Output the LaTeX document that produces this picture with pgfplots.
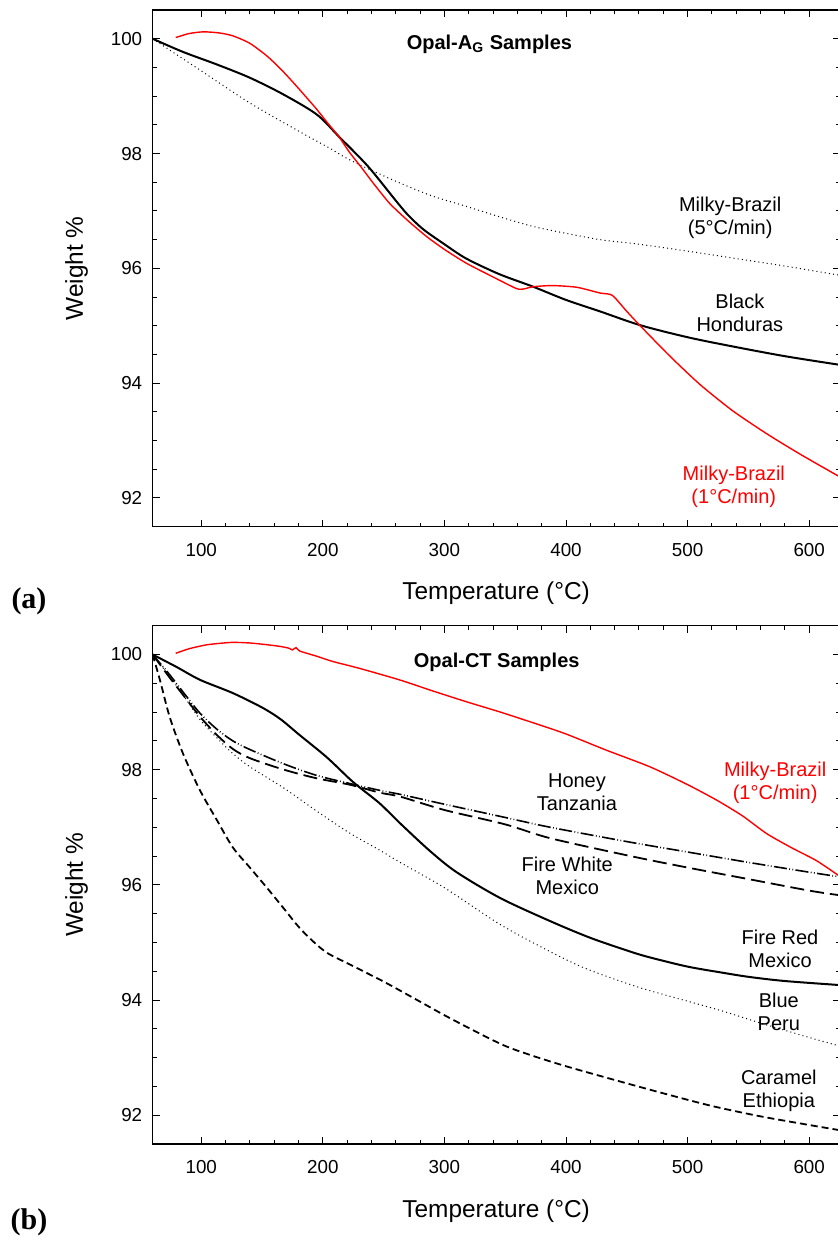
\documentclass[border=0pt]{standalone}
\usepackage{fontspec}
\setmainfont{Liberation Sans}
\newfontfamily\panelfont{Liberation Serif}
\usepackage{pgfplots}
\pgfplotsset{compat=1.18}

\definecolor{tgared}{RGB}{255,0,0}

\pgfplotsset{
  tga/.style={
    scale only axis,
    width=343.5pt,
    xmin=60, xmax=625,
    ymin=91.5, ymax=100.5,
    xtick={100,200,...,600},
    ytick={92,94,...,100},
    minor x tick num=4,
    minor y tick num=3,
    tick align=inside,
    major tick length=3.5pt,
    minor tick length=2pt,
    axis line style={line width=0.75pt},
    every tick/.style={black, line width=0.5pt},
    /pgf/number format/assume math mode=true,
    ticklabel style={font=\fontsize{9.4}{11}\selectfont},
    xticklabel style={anchor=north, inner sep=0pt, yshift=-8pt},
    yticklabel style={anchor=east, inner sep=0pt, xshift=-5pt},
    xlabel={Temperature (°C)},
    ylabel={Weight \%},
    label style={font=\fontsize{12.2}{14}\selectfont},
    xlabel style={at={(axis description cs:0.5,-0.1287)}, anchor=center},
    ylabel style={at={(axis description cs:-0.1106,0.5)}, anchor=center},
    clip=true,
  },
}
\tikzset{
  note/.style={font=\fontsize{10}{11.5}\selectfont, align=center, inner sep=0pt},
  titlenote/.style={font=\fontsize{10}{12}\selectfont\bfseries, inner sep=0pt},
  solidblack/.style={black, line width=1pt, smooth},
  redline/.style={tgared, line width=0.7pt, smooth, tension=0.4},
  dotline/.style={black, line width=0.5pt, dash pattern=on 0.5pt off 1.6pt, smooth},
  longdash/.style={black, line width=0.9pt, dash pattern=on 7pt off 3pt, smooth},
  dashdotdot/.style={black, line width=0.8pt, dash pattern=on 6.5pt off 1.2pt on 0.4pt off 1.2pt on 0.4pt off 1.2pt, smooth},
  shortdash/.style={black, line width=0.9pt, dash pattern=on 3.5pt off 2pt, smooth},
}

\begin{document}
\begin{tikzpicture}

% ---------------- (a) Opal-A_G samples ----------------
\begin{axis}[tga, height=258.35pt, at={(76.3pt,-5pt)}, anchor=north west]

% Milky-Brazil, 5 C/min
\addplot[dotline] coordinates {
(60,100) (100,99.44) (140,98.88) (181,98.38) (205,98.1) (222,97.89)
(245,97.66) (263,97.49) (290,97.26) (318,97.08) (345,96.9)
(373,96.73) (400,96.61) (428,96.5) (460,96.42) (500,96.3) (540,96.17)
(580,96.04) (625,95.88)
};

% Black Honduras
\addplot[solidblack] coordinates {
(60,100) (85,99.77) (113,99.55) (140,99.32) (167.5,99.03) (195,98.68)
(213,98.3) (237,97.78) (260,97.18) (270,96.93) (282.6,96.68) (300,96.42)
(318,96.17) (345,95.9) (373,95.68) (400,95.45) (428,95.25) (461,95.01)
(500,94.8) (537,94.64) (580,94.47) (625,94.32)
};

% Milky-Brazil, 1 C/min
\addplot[redline] coordinates {
(79,100.02) (90,100.09) (102,100.12) (115,100.1) (126,100.05) (140,99.92)
(154,99.7) (165,99.48) (176,99.23) (186,98.99) (195,98.77) (204,98.53)
(213,98.3) (222,98.02) (232,97.75) (242,97.47) (255,97.13) (270,96.83)
(285,96.56) (300,96.33) (318,96.09) (340,95.85) (359,95.65) (365,95.64)
(373,95.68) (389,95.70) (409,95.67) (428,95.57) (438,95.53) (450,95.25)
(461,95.0) (485,94.48) (510,93.98) (537,93.52) (565,93.12) (592,92.77)
(620,92.43) (625,92.37)
};

\node[titlenote] at (axis cs:337,99.9) {Opal-A\textsubscript{G} Samples};
\node[note] at (axis cs:535,96.88) {Milky-Brazil\\(5°C/min)};
\node[note] at (axis cs:543,95.22) {Black\\Honduras};
\node[note, text=tgared] at (axis cs:538,92.2) {Milky-Brazil\\(1°C/min)};
\end{axis}

% ---------------- (b) Opal-CT samples ----------------
\begin{axis}[tga, height=259.15pt, at={(76.3pt,-312.85pt)}, anchor=north west]

% Milky-Brazil, 1 C/min
\addplot[redline] coordinates {
(79,100.02) (90,100.1) (105,100.17) (125,100.21) (140,100.2) (154,100.17)
(165,100.14) (172,100.11) (175,100.08) (178,100.12) (181,100.06) (195,99.97)
(208,99.88) (230,99.76) (263,99.56) (290,99.37) (318,99.18) (346,99.0)
(375,98.8) (400,98.62) (433,98.34) (469,98.05) (500,97.74) (524,97.47)
(545,97.2) (565,96.89) (585,96.65) (606,96.42) (625,96.15)
};

% Honey Tanzania
\addplot[dashdotdot] coordinates {
(60,100) (74,99.65) (85,99.35) (99,98.98) (113,98.7) (126,98.5)
(140,98.35) (168,98.1) (195,97.9) (222,97.76) (247,97.64) (264,97.57)
(300,97.4) (350,97.17) (387,97.0) (453,96.74) (500,96.57) (550,96.39)
(600,96.22) (625,96.14)
};

% Fire White Mexico
\addplot[longdash] coordinates {
(60,100) (74,99.6) (85,99.3) (99,98.92) (113,98.6) (126,98.36)
(140,98.2) (168,98.0) (195,97.85) (222,97.74) (247,97.6) (264,97.53)
(300,97.3) (350,97.05) (387,96.81) (453,96.5) (500,96.3) (550,96.1)
(600,95.9) (625,95.82)
};

% Fire Red Mexico
\addplot[solidblack] coordinates {
(60,100) (80,99.78) (99,99.56) (126,99.33) (150,99.08) (165,98.88)
(181,98.6) (203,98.22) (222,97.84) (231,97.68) (247,97.41)
(264,97.06) (288,96.59) (310,96.22) (346,95.77) (387,95.37) (420,95.08)
(453,94.84) (469,94.74) (500,94.58) (530,94.47) (551,94.4) (580,94.33)
(625,94.26)
};

% Blue Peru
\addplot[dotline] coordinates {
(60,100) (74,99.62) (85,99.3) (99,98.87) (113,98.55) (126,98.28)
(140,98.05) (168,97.68) (195,97.28) (222,96.9) (247,96.6) (263.5,96.39)
(300,95.95) (346,95.31) (387,94.84) (417,94.54) (460,94.22) (500,93.98)
(530,93.8) (560,93.6) (600,93.35) (625,93.2)
};

% Caramel Ethiopia
\addplot[shortdash] coordinates {
(60,100) (66,99.56) (74,98.92) (85,98.28) (99,97.64) (113,97.12)
(126,96.65) (140,96.3) (154,95.95) (167.5,95.6) (181,95.25) (195,94.96)
(205,94.8) (220,94.64) (250,94.32) (275,94.03) (305,93.68) (346,93.24)
(370,93.05) (400,92.85) (442,92.6) (480,92.38) (520,92.16) (560,91.98)
(600,91.83) (625,91.74)
};

\node[titlenote] at (axis cs:343,99.86) {Opal-CT Samples};
\node[note, text=tgared] at (axis cs:572,97.78) {Milky-Brazil\\(1°C/min)};
\node[note] at (axis cs:409,97.6) {Honey\\Tanzania};
\node[note] at (axis cs:401,96.16) {Fire White\\Mexico};
\node[note] at (axis cs:576,94.89) {Fire Red\\Mexico};
\node[note] at (axis cs:575,93.79) {Blue\\Peru};
\node[note] at (axis cs:575,92.43) {Caramel\\Ethiopia};
\end{axis}

% panel letters
\node[font=\panelfont\fontsize{15}{17}\selectfont\bfseries, inner sep=0pt] at (14.5pt,-300.5pt) {(a)};
\node[font=\panelfont\fontsize{15}{17}\selectfont\bfseries, inner sep=0pt] at (14.5pt,-611pt) {(b)};

\pgfresetboundingbox
\path[use as bounding box] (0,0) rectangle (419pt,-618.5pt);
\end{tikzpicture}
\end{document}
